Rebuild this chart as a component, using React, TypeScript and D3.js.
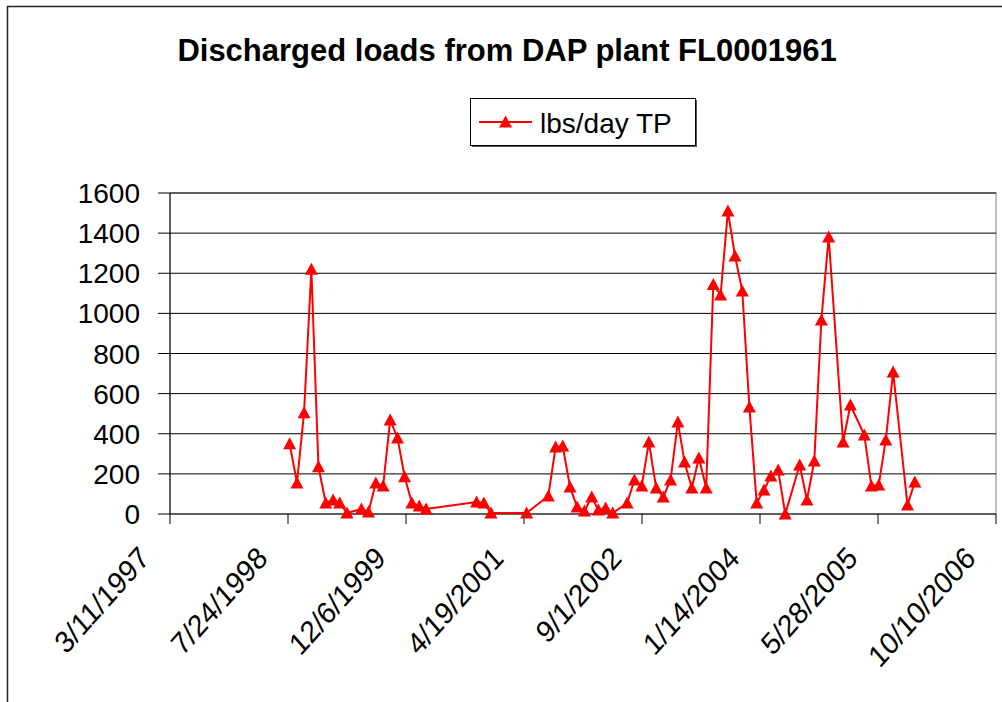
import React from "react";
import * as d3 from "d3";

// values (month-end samples)
const sampleDates = [
  "1998-07-31", "1998-08-31", "1998-09-30", "1998-10-31", "1998-11-30", "1998-12-31",
  "1999-01-31", "1999-02-28", "1999-03-31", "1999-05-31", "1999-06-30", "1999-07-31",
  "1999-08-31", "1999-09-30", "1999-10-31", "1999-11-30", "1999-12-31", "2000-01-31",
  "2000-02-29", "2000-09-30", "2000-10-31", "2000-11-30", "2001-04-30", "2001-07-31",
  "2001-08-31", "2001-09-30", "2001-10-31", "2001-11-30", "2001-12-31", "2002-01-31",
  "2002-02-28", "2002-03-31", "2002-04-30", "2002-06-30", "2002-07-31", "2002-08-31",
  "2002-09-30", "2002-10-31", "2002-11-30", "2002-12-31", "2003-01-31", "2003-02-28",
  "2003-03-31", "2003-04-30", "2003-05-31", "2003-06-30", "2003-07-31", "2003-08-31",
  "2003-09-30", "2003-10-31", "2003-11-30", "2003-12-31", "2004-01-31", "2004-02-29",
  "2004-03-31", "2004-04-30", "2004-06-30", "2004-07-31", "2004-08-31", "2004-09-30",
  "2004-10-31", "2004-12-31", "2005-01-31", "2005-03-31", "2005-04-30", "2005-05-31",
  "2005-06-30", "2005-07-31", "2005-09-30", "2005-10-31",
];

const lbsPerDayTP = [
  350, 155, 505, 1220, 235, 55,
  70, 55, 5, 25, 10, 155,
  140, 468, 379, 186, 55, 40,
  25, 60, 55, 5, 5, 90,
  334, 339, 135, 35, 15, 85,
  20, 30, 5, 55, 170, 140,
  359, 130, 85, 170, 459, 259,
  130, 279, 130, 1144, 1092, 1510,
  1286, 1112, 533, 55, 120, 189,
  219, 0, 244, 70, 264, 967,
  1381, 359, 543, 394, 140, 145,
  369, 708, 45, 160,
];

const xTickLabels = [
  "3/11/1997", "7/24/1998", "12/6/1999", "4/19/2001",
  "9/1/2002", "1/14/2004", "5/28/2005", "10/10/2006",
];
const yTicks = [0, 200, 400, 600, 800, 1000, 1200, 1400, 1600];

const chartTitle = "Discharged loads from DAP plant FL0001961";
const seriesName = "lbs/day TP";

const FONT = "'Liberation Sans', Arial, sans-serif";

const App: React.FC = () => {
  const plot = { left: 170, right: 996, top: 193, bottom: 514 };

  const parseIso = d3.timeParse("%Y-%m-%d");
  const parseTick = d3.timeParse("%m/%d/%Y");
  const tickDates = xTickLabels.map((t) => parseTick(t) as Date);

  const data = sampleDates.map((d, i) => ({
    date: parseIso(d) as Date,
    value: lbsPerDayTP[i],
  }));

  const x = d3
    .scaleTime()
    .domain([tickDates[0], tickDates[tickDates.length - 1]])
    .range([plot.left, plot.right]);

  const y = d3.scaleLinear().domain([0, 1600]).range([plot.bottom, plot.top]);

  const line = d3
    .line<{ date: Date; value: number }>()
    .x((d) => x(d.date))
    .y((d) => y(d.value));

  // triangle marker centred on the point
  const tri = (cx: number, cy: number) =>
    `M${cx},${cy - 6.5}L${cx + 6.5},${cy + 5.5}L${cx - 6.5},${cy + 5.5}Z`;

  return (
    <svg
      width={1002}
      height={702}
      style={{ position: "absolute", left: 0, top: 0, background: "#fff" }}
      fontFamily={FONT}
    >
      {/* chart area border */}
      <rect x={7.5} y={6.5} width={1100} height={800} fill="#fff" stroke="#222" strokeWidth={1.5} />

      <text x={507} y={61} textAnchor="middle" fontSize={31} fontWeight="bold" fill="#000">
        {chartTitle}
      </text>

      {/* legend */}
      <g>
        <rect x={472} y={100} width={225} height={47} fill="#555" />
        <rect x={470.5} y={98.5} width={225} height={47} fill="#fff" stroke="#000" strokeWidth={1} />
        <line x1={479} x2={532} y1={122} y2={122} stroke="#ff0000" strokeWidth={2} />
        <path d={tri(505.5, 122)} fill="#ff0000" />
        <text x={540} y={133} fontSize={28} fill="#000">
          {seriesName}
        </text>
      </g>

      {/* plot area */}
      <rect
        x={plot.left}
        y={plot.top}
        width={plot.right - plot.left}
        height={plot.bottom - plot.top}
        fill="none"
        stroke="#808080"
        strokeWidth={1}
      />
      {yTicks.map((t) => (
        <g key={t}>
          <line x1={plot.left - 12} x2={plot.right} y1={y(t)} y2={y(t)} stroke="#000" strokeWidth={1} />
          <text x={140} y={y(t)} dy="0.36em" textAnchor="end" fontSize={28} fill="#000">
            {t}
          </text>
        </g>
      ))}
      <line x1={plot.left} x2={plot.left} y1={plot.top} y2={plot.bottom} stroke="#000" strokeWidth={1} />

      {tickDates.map((d, i) => {
        const tx = x(d);
        return (
          <g key={xTickLabels[i]}>
            <line x1={tx} x2={tx} y1={plot.bottom} y2={plot.bottom + 10} stroke="#000" strokeWidth={1} />
            <text
              transform={`translate(${tx - 19},${560}) scale(1,1.12) rotate(-45)`}
              textAnchor="end"
              fontSize={27.5}
              fill="#000"
            >
              {xTickLabels[i]}
            </text>
          </g>
        );
      })}

      {/* series */}
      <path d={line(data) ?? ""} fill="none" stroke="#ff0000" strokeWidth={2} />
      {data.map((d, i) => (
        <path key={i} d={tri(x(d.date), y(d.value))} fill="#ff0000" />
      ))}
    </svg>
  );
};

export default App;
